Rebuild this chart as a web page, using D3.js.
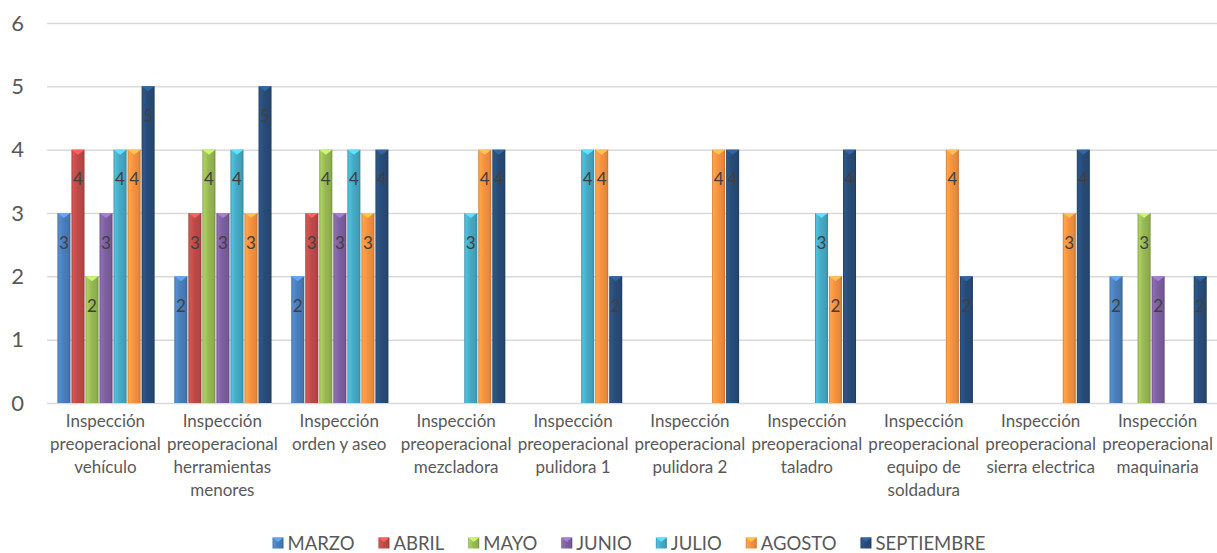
<!DOCTYPE html>
<html>
<head>
<meta charset="utf-8">
<script src="https://cdn.jsdelivr.net/npm/d3@7"></script>
<style>
    body { margin: 0; background: #fff; }
    text { font-family: Lato, "Open Sans", sans-serif; }
</style>
</head>
<body>
<div id="chart"></div>
<script>
// categories (line breaks as in the original chart)
const categories = [
    'Inspección\npreoperacional\nvehículo',
    'Inspección\npreoperacional\nherramientas\nmenores',
    'Inspección\norden y aseo',
    'Inspección\npreoperacional\nmezcladora',
    'Inspección\npreoperacional\npulidora 1',
    'Inspección\npreoperacional\npulidora 2',
    'Inspección\npreoperacional\ntaladro',
    'Inspección\npreoperacional\nequipo de\nsoldadura',
    'Inspección\npreoperacional\nsierra electrica',
    'Inspección\npreoperacional\nmaquinaria'
];

const months = ['MARZO', 'ABRIL', 'MAYO', 'JUNIO', 'JULIO', 'AGOSTO', 'SEPTIEMBRE'];
const monthColors = ['#4a7ebb', '#be4b48', '#98b954', '#7d60a0', '#46aac5', '#f69240', '#284c78'];

// values per month, one per category (null = no bar)
const marzo      = [3, 2, 2, null, null, null, null, null, null, 2];
const abril      = [4, 3, 3, null, null, null, null, null, null, null];
const mayo       = [2, 4, 4, null, null, null, null, null, null, 3];
const junio      = [3, 3, 3, null, null, null, null, null, null, 2];
const julio      = [4, 4, 4, 3, 4, null, 3, null, null, null];
const agosto     = [4, 3, 3, 4, 4, 4, 2, 4, 3, null];
const septiembre = [5, 5, 4, 4, 2, 4, 4, 2, 4, 2];

const yTicks = [0, 1, 2, 3, 4, 5, 6];

class InspectionChart {
    constructor(containerID, width, height) {
        this.containerID = containerID;
        this.width = width;
        this.height = height;
        this.margin = { top: 23, right: 1, bottom: 150, left: 47 };

        this.series = [marzo, abril, mayo, junio, julio, agosto, septiembre];
        this.data = [];
        categories.forEach((c, i) => {
            months.forEach((m, j) => {
                const v = this.series[j][i];
                if (v != null) this.data.push({ category: c, month: m, value: v });
            });
        });

        this.initVis();
    }

    initVis() {
        let vis = this;

        vis.innerW = vis.width - vis.margin.left - vis.margin.right;
        vis.innerH = vis.height - vis.margin.top - vis.margin.bottom;

        vis.root = d3.select(vis.containerID)
            .append('svg')
            .attr('width', vis.width)
            .attr('height', vis.height);

        // gradients to imitate the bevelled bars
        const defs = vis.root.append('defs');
        months.forEach((m, j) => {
            const c = d3.color(monthColors[j]);
            const g = defs.append('linearGradient')
                .attr('id', 'grad' + j)
                .attr('x1', '0%').attr('x2', '100%')
                .attr('y1', '0%').attr('y2', '0%');
            g.append('stop').attr('offset', '0%').attr('stop-color', c.darker(0.5));
            g.append('stop').attr('offset', '12%').attr('stop-color', c.brighter(0.35));
            g.append('stop').attr('offset', '45%').attr('stop-color', c);
            g.append('stop').attr('offset', '85%').attr('stop-color', c.darker(0.2));
            g.append('stop').attr('offset', '100%').attr('stop-color', c.darker(0.7));
        });

        vis.svg = vis.root.append('g')
            .attr('transform', `translate(${vis.margin.left},${vis.margin.top})`);

        vis.x0 = d3.scaleBand()
            .domain(categories)
            .range([0, vis.innerW])
            .padding(0);

        vis.x1 = d3.scaleBand()
            .domain(months)
            .range([vis.x0.bandwidth() * 0.085, vis.x0.bandwidth() * 0.925])
            .padding(0);

        vis.y = d3.scaleLinear()
            .domain([0, 6])
            .range([vis.innerH, 0]);

        vis.updateVis();
    }

    updateVis() {
        let vis = this;

        // gridlines + y labels
        const yAxis = vis.svg.append('g')
            .attr('class', 'y-axis')
            .call(d3.axisLeft(vis.y)
                .tickValues(yTicks)
                .tickFormat(d3.format('d'))
                .tickSize(-vis.innerW - 2)
                .tickPadding(23));
        yAxis.select('.domain').remove();
        yAxis.selectAll('line').attr('stroke', '#d9d9d9').attr('stroke-width', 1.5);
        yAxis.selectAll('text')
            .attr('fill', '#595959')
            .style('font-size', '22px');

        // x axis labels
        const xAxis = vis.svg.append('g')
            .attr('class', 'x-axis')
            .attr('transform', `translate(0,${vis.innerH})`)
            .call(d3.axisBottom(vis.x0).tickSize(0).tickPadding(0));
        xAxis.select('.domain').remove();
        xAxis.selectAll('text').each(function(d) {
            const t = d3.select(this).text('').attr('fill', '#595959').attr('dy', null).style('font-size', '17px');
            d.split('\n').forEach((line, i) => {
                t.append('tspan').attr('x', 0).attr('y', 24 + i * 23).text(line);
            });
        });

        // bars
        const bw = vis.x1.bandwidth();
        const groups = vis.svg.selectAll('.bar-g')
            .data(vis.data)
            .join('g')
            .attr('class', 'bar-g')
            .attr('transform', d => `translate(${vis.x0(d.category) + vis.x1(d.month)},0)`);

        groups.append('rect')
            .attr('class', 'bar')
            .attr('x', 0.5)
            .attr('y', d => vis.y(d.value))
            .attr('width', bw - 1)
            .attr('height', d => vis.innerH - vis.y(d.value))
            .attr('fill', d => `url(#grad${months.indexOf(d.month)})`);

        // bevel cap at the top of each bar
        groups.append('path')
            .attr('d', d => {
                const t = vis.y(d.value);
                return `M0.5,${t}L${bw - 0.5},${t}L${bw / 2},${t + 5}Z`;
            })
            .attr('fill', d => d3.color(monthColors[months.indexOf(d.month)]).brighter(0.8));

        // value labels
        groups.append('text')
            .attr('x', bw / 2)
            .attr('y', d => vis.y(d.value) + 29)
            .attr('text-anchor', 'middle')
            .attr('dominant-baseline', 'central')
            .attr('fill', '#404040')
            .style('font-size', '17px')
            .text(d => d.value);

        // legend
        const legend = vis.root.append('g').attr('class', 'legend');
        let xPos = 0;
        months.forEach((m, j) => {
            const item = legend.append('g').attr('transform', `translate(${xPos},0)`);
            item.append('rect')
                .attr('x', 0).attr('y', -5.5)
                .attr('width', 11).attr('height', 11)
                .attr('fill', `url(#grad${j})`);
            item.append('path')
                .attr('d', 'M0,-5.5L11,-5.5L5.5,-1Z')
                .attr('fill', d3.color(monthColors[j]).brighter(0.8));
            const label = item.append('text')
                .attr('x', 15)
                .attr('dominant-baseline', 'central')
                .attr('fill', '#595959')
                .style('font-size', '18.5px')
                .text(m);
            xPos += 15 + label.node().getComputedTextLength() + 24;
        });
        const legendW = xPos - 24;
        legend.attr('transform', `translate(${629 - legendW / 2},543)`);
    }
}

new InspectionChart('#chart', 1217, 553);
</script>
</body>
</html>
